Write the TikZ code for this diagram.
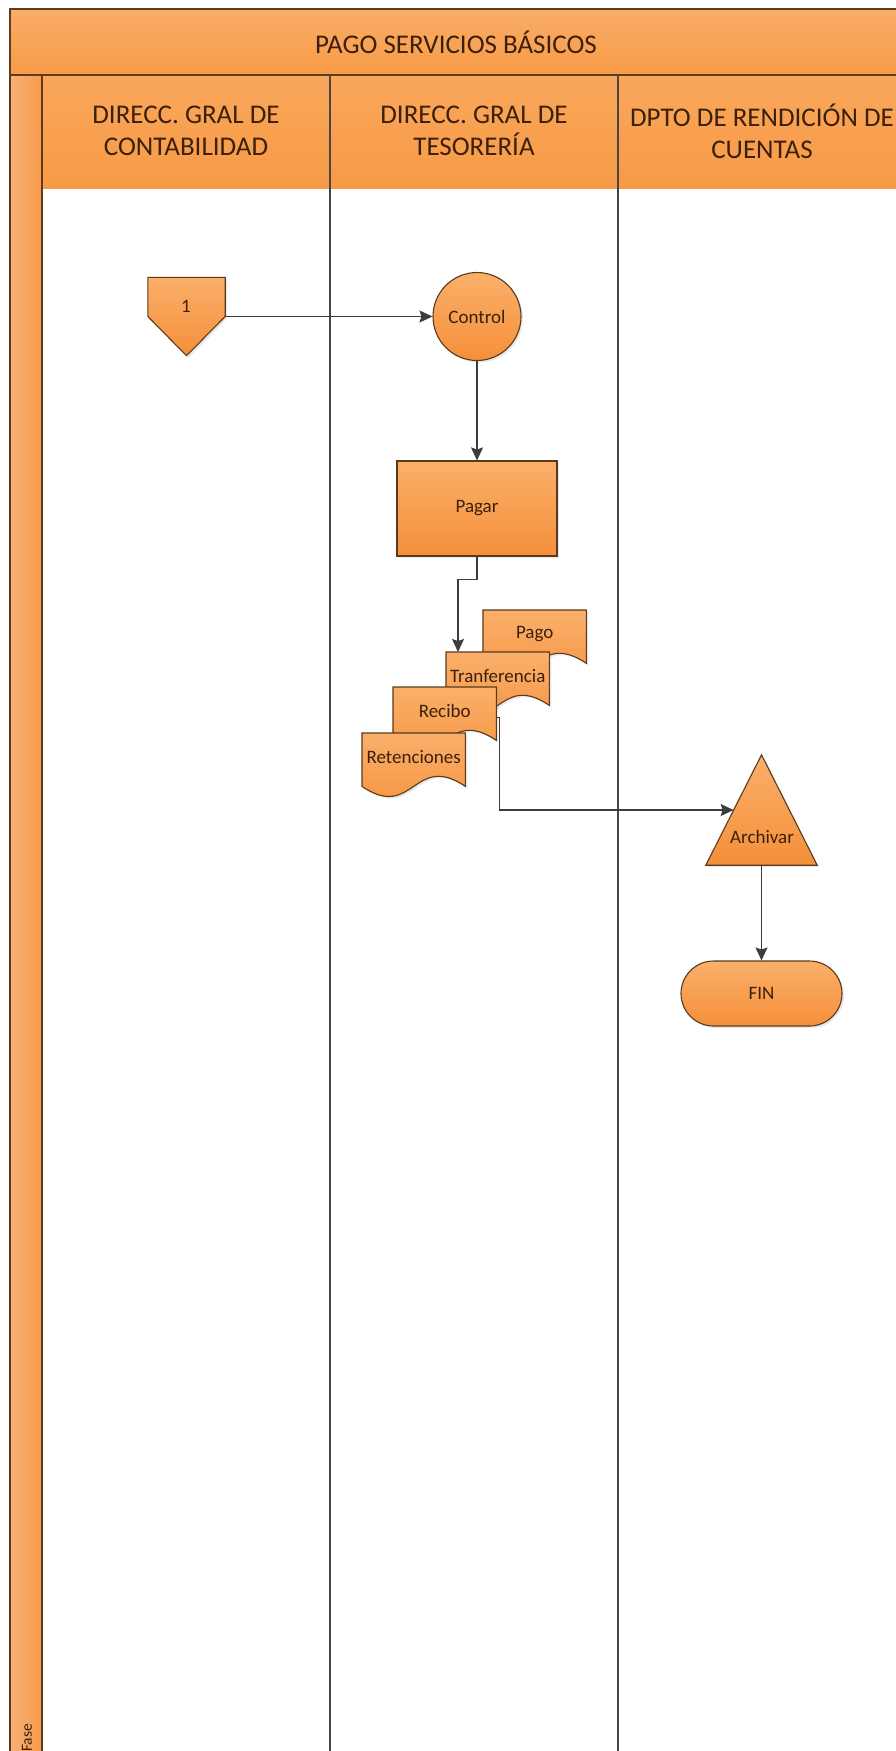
\documentclass[tikz,border=0pt]{standalone}
\usepackage{fontspec}
\setmainfont{Carlito}
\usetikzlibrary{arrows.meta,calc,shadows}

\definecolor{frameC}{HTML}{5E3B1C}
\definecolor{laneC}{HTML}{474747}
\definecolor{txtC}{HTML}{3B200C}
\definecolor{bandTop}{HTML}{F9AD66}
\definecolor{bandBot}{HTML}{F89B47}
\definecolor{hdrTop}{HTML}{F9A75C}
\definecolor{hdrBot}{HTML}{F89A45}
\definecolor{faseL}{HTML}{F6B27A}
\definecolor{faseR}{HTML}{F89A48}
\definecolor{shTop}{HTML}{FAB06A}
\definecolor{shBot}{HTML}{F58F3A}
\definecolor{edgeC}{HTML}{5A3A1E}
\definecolor{connC}{HTML}{3D3D3D}

\tikzset{
  shp/.style={draw=edgeC, line width=1.1pt, top color=shTop, bottom color=shBot,
    drop shadow={opacity=0.18, shadow xshift=2pt, shadow yshift=-2pt}},
  lbl/.style={font=\fontsize{19}{22}\selectfont, text=txtC},
  hdr/.style={font=\fontsize{27}{32}\selectfont, text=txtC, align=center},
  conn/.style={draw=connC, line width=1.3pt, -{Stealth[length=13pt,width=12pt,inset=2pt]}},
  lane/.style={draw=laneC, line width=1.1pt},
  frm/.style={draw=frameC, line width=1.4pt},
}

\newcommand\docnode[4]{%
  \node[minimum width=103pt,minimum height=53pt,inner sep=0pt,anchor=north west] (#1) at (#2,#3) {};
  \path[shp] (#1.south west) -- (#1.north west) -- (#1.north east) -- (#1.south east)
     .. controls ($(#1.south)+(0,-35)$) and ($(#1.south)+(0,35)$) .. (#1.south west) -- cycle;
  \node[lbl] at ($(#1.center)+(0,-3)$) {#4};
}

\begin{document}
\begin{tikzpicture}[x=1pt,y=-1pt]
\useasboundingbox (0,0) rectangle (896,1751);
\begin{scope}
\clip (0,0) rectangle (896,1751);
\fill[top color=bandTop,bottom color=bandBot] (10,9) rectangle (910,75);
\fill[top color=hdrTop,bottom color=hdrBot] (42,75) rectangle (910,188);
\fill[left color=faseL,right color=faseR] (10,75) rectangle (42,1760);
\draw[frm] (910,9) -- (10,9) -- (10,1760);
\draw[frm] (10,75) -- (910,75);
\draw[frm] (42,75) -- (42,1760);
\draw[lane] (330,75) -- (330,1760);
\draw[lane] (618,75) -- (618,1760);
\node[rotate=90, font=\fontsize{15.5}{18}\selectfont, text=txtC] (fase) at (27,1738) {Fase};
\end{scope}

\node[font=\fontsize{27}{32}\selectfont, text=txtC] (title) at (456,42) {PAGO SERVICIOS BÁSICOS};
\node[hdr] (h1) at (186,131) {DIRECC. GRAL DE\\CONTABILIDAD};
\node[hdr] (h2) at (474,131) {DIRECC. GRAL DE\\TESORERÍA};
\node[hdr] (h3) at (762,131) {DPTO DE RENDICIÓN DE\\CUENTAS};

% off-page connector
\node[minimum width=77pt, minimum height=78pt, inner sep=0pt] (op) at (186.5,316.5) {};
\path[shp] (op.north west) -- (op.north east) -- (op.east) -- (op.south) -- (op.west) -- cycle;
\node[lbl] (oplbl) at (186,306) {1};

\node[shp, circle, minimum size=88pt, inner sep=0pt, lbl] (ctrl) at (477,316.5) {Control};
\node[shp, rectangle, minimum width=160pt, minimum height=95pt, lbl] (pagar) at (477,508.5) {Pagar};

\docnode{pago}{483}{610}{Pago}
\docnode{tranf}{446}{652}{Tranferencia}
\docnode{recibo}{393}{687}{Recibo}
\docnode{reten}{362}{733}{Retenciones}

\node[minimum width=111pt, minimum height=110pt, inner sep=0pt] (arch) at (761.5,810) {};
\path[shp] (arch.south west) -- (arch.north) -- (arch.south east) -- cycle;
\node[lbl] (archlbl) at (762,837) {Archivar};

\node[shp, rectangle, rounded corners=32.5pt, minimum width=161pt, minimum height=65pt, lbl] (fin) at (761.5,993.5) {FIN};

\draw[conn] (op.east) -- (ctrl.west);
\draw[conn] (ctrl.south) -- (pagar.north);
\draw[conn] (pagar.south) -- ++(0,23) -| ($(tranf.north west)+(12,0)$);
\draw[conn] ($(recibo.east)+(0,3.5)$) -- ++(3,0) |- ($(arch.south west)!0.5!(arch.north)$);
\draw[conn] (arch.south) -- (fin.north);
\end{tikzpicture}
\end{document}
